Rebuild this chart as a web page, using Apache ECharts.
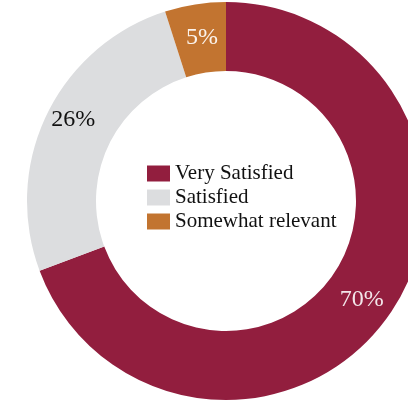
<!DOCTYPE html>
<html>
<head>
<meta charset="utf-8">
<script src="https://cdn.jsdelivr.net/npm/echarts@6/dist/echarts.min.js"></script>
<style>
  html, body { margin: 0; padding: 0; background: #ffffff; }
  #chart { width: 408px; height: 407px; }
</style>
</head>
<body>
<div id="chart"></div>
<script>
// Satisfaction breakdown (percent of respondents)
const categories = ['Very Satisfied', 'Satisfied', 'Somewhat relevant'];
const values = [70, 26, 5];
const colors = ['#921e3e', '#dcdddf', '#c27430'];
const labelColors = ['#f3e6ea', '#111111', '#fbf3ec'];
const labelOffsets = [[-2, 3], [-2, -8], [2, 2]];

const FONT = '"Liberation Serif", "Times New Roman", serif';

const chart = echarts.init(document.getElementById('chart'), null, { renderer: 'canvas' });

chart.setOption({
  animation: false,
  color: colors,
  legend: {
    orient: 'vertical',
    left: 142,
    top: 158,
    itemWidth: 23,
    itemHeight: 16,
    itemGap: 3,
    icon: 'rect',
    selectedMode: false,
    textStyle: { fontFamily: FONT, fontSize: 21, lineHeight: 21, color: '#111111', padding: [0, 0, 0, 0] },
    data: categories
  },
  series: [{
    type: 'pie',
    center: [226, 201],
    radius: [130, 199],
    startAngle: 90,
    clockwise: true,
    avoidLabelOverlap: false,
    label: {
      show: true,
      position: 'inside',
      fontFamily: FONT,
      fontSize: 24,
      formatter: p => p.value + '%'
    },
    labelLine: { show: false },
    emphasis: { disabled: true },
    itemStyle: { borderWidth: 0 },
    data: categories.map((name, i) => ({
      name,
      value: values[i],
      itemStyle: { color: colors[i] },
      label: { color: labelColors[i], offset: labelOffsets[i] }
    }))
  }]
});
</script>
</body>
</html>
